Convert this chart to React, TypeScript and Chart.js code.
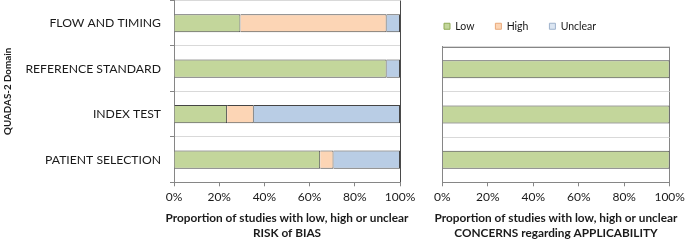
import React, { useEffect, useRef } from 'react';
import { Chart, registerables } from 'chart.js';

Chart.register(...registerables);

// ---- data ----
const riskCategories = ['FLOW AND TIMING', 'REFERENCE STANDARD', 'INDEX TEST', 'PATIENT SELECTION'];
const riskLow = [29.4, 94.1, 23.5, 64.7];
const riskHigh = [64.7, 0, 11.8, 5.9];
const riskUnclear = [5.9, 5.9, 64.7, 29.4];

const applicCategories = ['REFERENCE STANDARD', 'INDEX TEST', 'PATIENT SELECTION'];
const applicLow = [100, 100, 100];
const applicHigh = [0, 0, 0];
const applicUnclear = [0, 0, 0];

const seriesNames = ['Low', 'High', 'Unclear'];
const riskTitle = ['Proportion of studies with low, high or unclear', 'RISK of BIAS'];
const applicTitle = ['Proportion of studies with low, high or unclear', 'CONCERNS regarding APPLICABILITY'];
const yTitle = 'QUADAS-2 Domain';

// ---- styles ----
const FONT = 'Lato';
const GREEN = '#c3d69b';
const ORANGE = '#fcd5b5';
const BLUE = '#b9cde5';
const BAR_BORDER = '#454545';
const AXIS = '#868686';
const GRID = '#d9d9d9';
const TEXT = '#1a1a1a';
const legendFill = [GREEN, ORANGE, '#dce6f2'];
const legendStroke = ['#8faa55', '#e9a97a', '#9fb3cc'];
const TITLE_PAD_TOP = 4;
const TITLE_LINE = 15;

const legendSpacer = {
  id: 'legendSpacer',
  beforeLayout(chart: any) {
    const lg = chart.legend;
    if (lg && !lg.__patched) {
      const orig = lg.fit.bind(lg);
      lg.fit = function () {
        orig();
        this.height += 5.2;
      };
      lg.__patched = true;
    }
  },
};

const frameTop = {
  id: 'frameTop',
  beforeDatasetsDraw(chart: any) {
    const { ctx, chartArea } = chart;
    const y = Math.round(chartArea.top) + 0.5;
    ctx.save();
    ctx.strokeStyle = AXIS;
    ctx.lineWidth = 1;
    ctx.beginPath();
    ctx.moveTo(chartArea.left, y);
    ctx.lineTo(chartArea.right, y);
    ctx.stroke();
    ctx.restore();
  },
};

function makeDatasets(low: number[], high: number[], unclear: number[]) {
  const cols = [GREEN, ORANGE, BLUE];
  return [low, high, unclear].map((d, i) => ({
    label: seriesNames[i],
    data: d,
    backgroundColor: cols[i],
    borderColor: BAR_BORDER,
    borderWidth: 1,
    barPercentage: 0.4,
    categoryPercentage: 1,
    xAxisID: 'x',
    yAxisID: 'y',
  }));
}

function xScale(borderCol: string) {
  return {
    type: 'linear',
    position: 'bottom',
    stacked: true,
    min: 0,
    max: 100,
    ticks: {
      stepSize: 20,
      callback: (v: any) => v + '%',
      font: { family: FONT, size: 12 },
      color: TEXT,
      padding: 4,
    },
    grid: {
      color: (c: any) => (c.index === 5 ? borderCol : 'rgba(0,0,0,0)'),
      tickColor: AXIS,
      tickLength: 4,
      drawOnChartArea: true,
    },
    border: { color: AXIS },
    afterFit: (s: any) => {
      s.height = 241 - 182.3 - (2 * TITLE_LINE + TITLE_PAD_TOP);
    },
  };
}

function spacerScale(width: number) {
  return {
    type: 'linear',
    position: 'right',
    display: true,
    ticks: { display: false },
    grid: { display: false, drawTicks: false },
    border: { display: false },
    afterFit: (s: any) => {
      s.width = width;
      s.paddingTop = 0;
      s.paddingBottom = 0;
    },
  };
}

function titleOpts(text: string[]) {
  return {
    display: true,
    position: 'bottom',
    text,
    color: TEXT,
    font: { family: FONT, size: 11.8, weight: 'bold', lineHeight: TITLE_LINE / 11.8 },
    padding: { top: TITLE_PAD_TOP, bottom: 0 },
  };
}

export default function App() {
  const leftRef = useRef<HTMLCanvasElement>(null);
  const rightRef = useRef<HTMLCanvasElement>(null);

  useEffect(() => {
    const left = new Chart(leftRef.current as HTMLCanvasElement, {
      type: 'bar',
      data: { labels: riskCategories, datasets: makeDatasets(riskLow, riskHigh, riskUnclear) as any },
      options: {
        indexAxis: 'y',
        animation: false,
        responsive: false,
        devicePixelRatio: 1,
        layout: { padding: { left: 0, right: 0, top: 0.5, bottom: 0 } },
        plugins: {
          legend: { display: false },
          tooltip: { enabled: false },
          title: titleOpts(riskTitle) as any,
        },
        scales: {
          x: xScale('#4a4a4a') as any,
          y: {
            type: 'category',
            stacked: true,
            ticks: { font: { family: FONT, size: 12.2 }, color: TEXT, padding: 9 },
            grid: { color: GRID, tickColor: AXIS, tickLength: 4, offset: true },
            border: { color: AXIS },
            title: {
              display: true,
              text: yTitle,
              font: { family: FONT, size: 9.8, weight: 'bold' },
              color: TEXT,
              padding: { top: 1.5, bottom: 0 },
            },
            afterFit: (s: any) => {
              s.width = 174;
              s.paddingTop = 0;
              s.paddingBottom = 0;
            },
          } as any,
          ySpacer: spacerScale(174) as any,
        },
      },
    });

    const right = new Chart(rightRef.current as HTMLCanvasElement, {
      type: 'bar',
      data: { labels: applicCategories, datasets: makeDatasets(applicLow, applicHigh, applicUnclear) as any },
      options: {
        indexAxis: 'y',
        animation: false,
        responsive: false,
        devicePixelRatio: 1,
        layout: { padding: { left: 8, right: 0, top: 0, bottom: 0 } },
        plugins: {
          tooltip: { enabled: false },
          title: titleOpts(applicTitle) as any,
          legend: {
            display: true,
            position: 'top',
            align: 'start',
            labels: {
              boxWidth: 6,
              boxHeight: 6,
              padding: 21,
              font: { family: FONT, size: 10.5 },
              color: TEXT,
              generateLabels: (chart: any) =>
                (Chart.defaults.plugins.legend.labels as any).generateLabels(chart).map((it: any, i: number) => ({
                  ...it,
                  fillStyle: legendFill[i],
                  strokeStyle: legendStroke[i],
                  lineWidth: 1,
                })),
            },
          },
        },
        scales: {
          x: xScale(AXIS) as any,
          y: {
            type: 'category',
            stacked: true,
            ticks: { display: false },
            grid: { color: GRID, drawTicks: false, offset: true },
            border: { color: AXIS },
            afterFit: (s: any) => {
              s.width = 442.3 - 415 - 8;
              s.paddingTop = 0;
              s.paddingBottom = 0;
            },
          } as any,
          ySpacer: spacerScale(19.3) as any,
        },
      },
      plugins: [legendSpacer, frameTop],
    });

    return () => {
      left.destroy();
      right.destroy();
    };
  }, []);

  return (
    <div style={{ position: 'fixed', left: 0, top: 0, width: 685, height: 241, background: '#fff', overflow: 'hidden' }}>
      <canvas
        ref={leftRef}
        width={574}
        height={241}
        style={{ position: 'absolute', left: 0, top: 0, width: 574, height: 241 }}
      />
      <canvas
        ref={rightRef}
        width={274}
        height={241}
        style={{ position: 'absolute', left: 415, top: 0, width: 274, height: 241 }}
      />
    </div>
  );
}
